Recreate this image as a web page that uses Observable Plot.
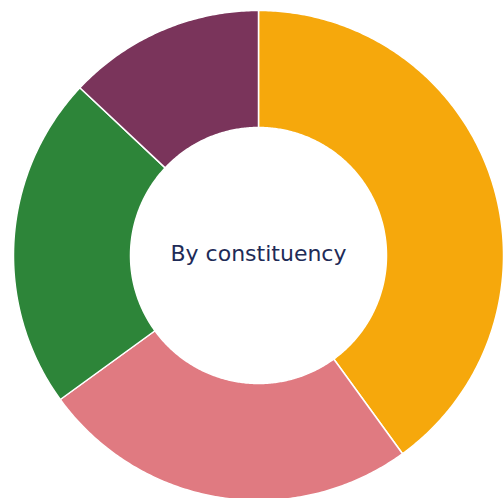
<!DOCTYPE html>
<html>
<head>
<meta charset="utf-8">
<script src="https://cdn.jsdelivr.net/npm/d3@7"></script>
<script src="https://cdn.jsdelivr.net/npm/@observablehq/plot@0.6"></script>
<style>
  html, body { margin: 0; padding: 0; background: #fff; }
  #chart svg { display: block; }
</style>
</head>
<body>
<div id="chart"></div>
<script>
const categories = ["A", "B", "C", "D"];
const values = [40, 25, 22, 13];
const colors = ["#F6A80C", "#E07A81", "#2D8539", "#7A345B"];
const centerLabel = "By constituency";

const innerR = 128 / 245;
const outerR = 1;

const pie = d3.pie().sort(null).value(d => d.value)(
  categories.map((c, i) => ({ category: c, value: values[i] }))
);

// build polygon vertices along each slice's arcs
const pts = [];
pie.forEach(s => {
  const n = Math.max(8, Math.ceil((s.endAngle - s.startAngle) / 0.01));
  const ring = [];
  for (let k = 0; k <= n; k++) {
    const a = s.startAngle + (s.endAngle - s.startAngle) * k / n;
    ring.push([outerR * Math.sin(a), outerR * Math.cos(a)]);
  }
  for (let k = n; k >= 0; k--) {
    const a = s.startAngle + (s.endAngle - s.startAngle) * k / n;
    ring.push([innerR * Math.sin(a), innerR * Math.cos(a)]);
  }
  ring.forEach(([x, y]) => pts.push({ category: s.data.category, x, y }));
});

const W = 503, H = 498, cx = 258, cy = 255, R = 245;

const chart = Plot.plot({
  width: W,
  height: H,
  margin: 0,
  x: { domain: [-cx / R, (W - cx) / R], axis: null },
  y: { domain: [(cy - H) / R, cy / R], axis: null },
  color: { domain: categories, range: colors },
  marks: [
    Plot.line(pts, {
      x: "x", y: "y", z: "category",
      fill: "category",
      stroke: "#fff", strokeWidth: 1.5,
      curve: "linear-closed"
    }),
    Plot.text([centerLabel], {
      x: () => 0, y: () => 0, text: d => d,
      fontSize: 22, fill: "#1E2B57",
      fontFamily: "DejaVu Sans", letterSpacing: 2.3,
      dx: 0, dy: -1.5
    })
  ]
});
document.getElementById("chart").appendChild(chart);
</script>
</body>
</html>
